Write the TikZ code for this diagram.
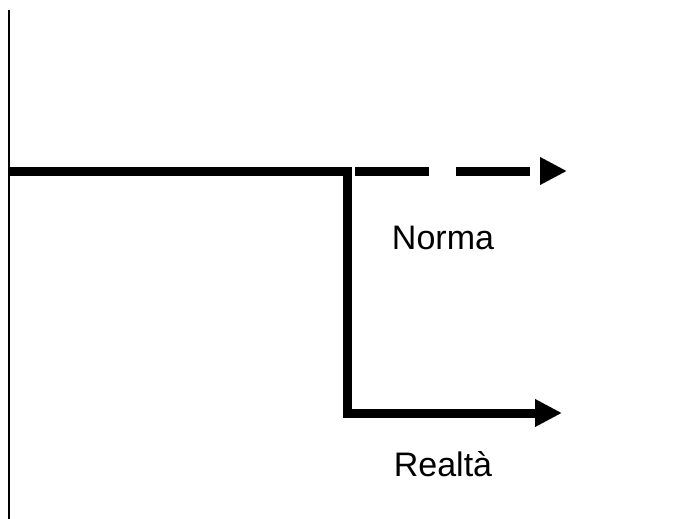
\documentclass[tikz,border=0pt]{standalone}
\usepackage{fontspec}
\setmainfont{Liberation Sans}
\usetikzlibrary{arrows.meta}
\begin{document}
\begin{tikzpicture}[x=1pt,y=-1pt,
  thickline/.style={line width=9pt, line join=miter},
  tip/.style={-{Triangle[length=27pt,width=26pt]}},
  lbl/.style={font=\fontsize{34}{40}\selectfont, anchor=base, inner sep=0pt}]
\useasboundingbox (0,0) rectangle (694,519);
\coordinate (axtop) at (9,10);
\coordinate (axbot) at (9,519);
\coordinate (start) at (8,171);
\coordinate (corner) at (347,171);
\coordinate (low) at (347,413);
\coordinate (rend) at (562,413);
\coordinate (dstart) at (355,171);
\coordinate (dend) at (567,171);
\draw[line width=1.2pt] (axtop) -- (axbot);
\draw[thickline, tip] (start) -- (corner) -- (low) -- (rend);
\draw[thickline, tip, dash pattern=on 74pt off 27pt] (dstart) -- (dend);
\node[lbl] (norma) at (443,249) {Norma};
\node[lbl] (realta) at (443,476) {Realtà};
\end{tikzpicture}
\end{document}
